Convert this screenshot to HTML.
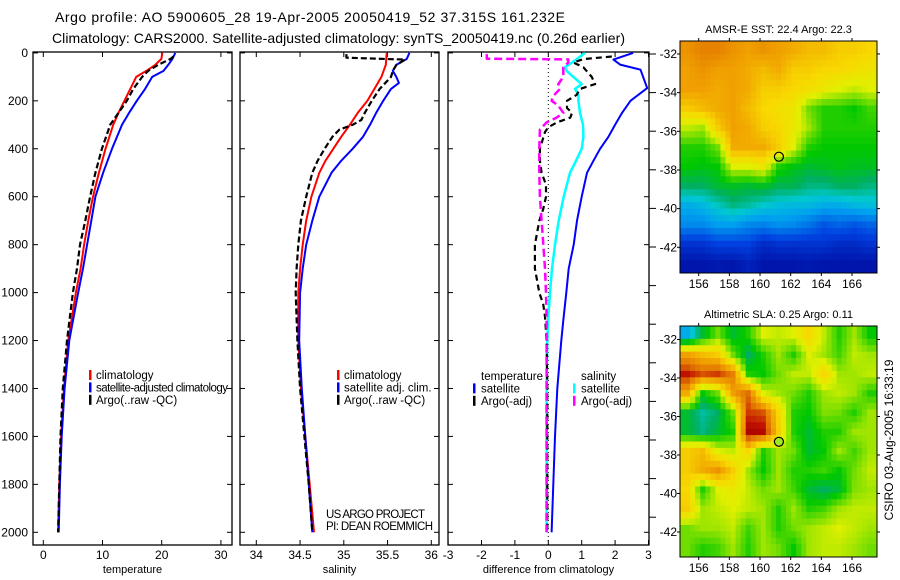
<!DOCTYPE html>
<html><head><meta charset="utf-8"><style>
html,body{margin:0;padding:0;background:#fff}
svg{display:block;font-family:"Liberation Sans",sans-serif}
</style></head><body>
<svg id="fig" width="900" height="580" viewBox="0 0 900 580">
<text x="55" y="22" font-size="14" textLength="510">Argo profile: AO 5900605_28 19-Apr-2005 20050419_52 37.315S 161.232E</text>
<text x="52" y="43" font-size="14" textLength="573">Climatology: CARS2000. Satellite-adjusted climatology: synTS_20050419.nc (0.26d earlier)</text>
<g id="layer"></g>
</svg>
<script>
// ---------- data ----------
const depthTicks=[0,200,400,600,800,1000,1200,1400,1600,1800,2000];
const climDepths=[0,25,50,75,100,150,200,250,300,400,500,600,700,800,900,1000,1200,1400,1600,1800,2000];
const tempClim=[20.1,19.95,18.9,17.4,15.7,14.7,13.7,12.7,11.8,10.5,9.4,8.4,7.6,6.9,6.3,5.5,4.2,3.5,3.0,2.7,2.5];
const tempSat=[22.3,21.8,21.1,20.3,18.4,17.2,15.8,14.5,13.3,11.6,10.1,8.8,8.1,7.4,6.7,5.9,4.4,3.6,3.1,2.8,2.6];
const argoTDepths=[15,25,50,75,100,150,200,250,300,400,500,600,700,800,900,1000,1200,1400,1600,1800,2000];
const tempArgo=[22.0,21.5,19.4,17.7,16.7,15.2,14.1,12.7,11.3,9.9,8.8,7.9,7.1,6.2,5.7,5.0,4.0,3.3,2.9,2.7,2.5];
const salClimDepths=[0,50,100,150,200,250,300,350,400,450,500,600,700,800,900,1000,1200,1400,1600,1800,2000];
const salClim=[35.49,35.48,35.43,35.35,35.27,35.16,35.07,34.97,34.88,34.79,34.72,34.63,34.57,34.53,34.50,34.48,34.48,34.51,34.56,34.61,34.66];
const salSatDepths=[0,25,50,75,100,125,150,200,250,300,350,400,450,500,600,700,800,900,1000,1200,1400,1600,1800,2000];
const salSat=[35.75,35.72,35.60,35.56,35.60,35.63,35.54,35.45,35.37,35.30,35.22,35.10,34.97,34.86,34.72,34.64,34.57,34.53,34.50,34.49,34.52,34.56,34.60,34.64];
const salArgoDepths=[5,20,28,50,75,100,150,200,250,280,300,320,350,400,450,500,600,700,800,900,1000,1200,1400,1600,1800,2000];
const salArgo=[35.03,35.03,35.70,35.60,35.56,35.54,35.41,35.32,35.24,35.20,35.10,34.95,34.87,34.78,34.70,34.64,34.57,34.51,34.48,34.46,34.45,34.47,34.50,34.55,34.60,34.64];
const dTSatDepths=[0,28,49,70,147,200,250,300,350,400,450,500,600,700,800,900,1000,1100,1200,1400,1600,1800,2000];
const dTSat=[2.54,1.95,2.15,2.76,2.96,2.46,2.21,2.0,1.8,1.55,1.35,1.16,1.0,0.86,0.76,0.61,0.54,0.46,0.39,0.27,0.2,0.15,0.1];
const dTArgoDepths=[15,26,40,60,100,130,150,175,200,230,250,270,290,310,330,400,450,500,550,600,650,700,800,900,1000,1050,1100,1200,1400,1600,1800,2000];
const dTArgo=[1.9,1.05,0.75,1.05,1.3,1.4,0.95,0.85,0.56,0.56,0.71,0.66,0.26,0.0,-0.1,-0.25,-0.25,-0.2,-0.07,-0.07,-0.15,-0.27,-0.4,-0.4,-0.27,-0.15,-0.1,-0.05,-0.03,-0.03,-0.03,-0.03];
const dSSatDepths=[0,25,40,60,75,100,130,150,175,200,250,300,350,400,450,500,600,700,800,900,1000,1100,1200,1400,1600,1800,2000];
const dSSat=[1.1,0.86,0.71,0.5,0.55,0.75,1.0,0.8,0.9,0.9,0.95,1.04,1.05,1.0,0.83,0.65,0.46,0.31,0.2,0.11,0.05,0.0,-0.03,-0.05,-0.05,-0.05,-0.05];
const dSArgoDepths=[5,24,27,40,60,100,130,150,180,200,220,250,270,290,320,400,500,600,700,800,900,1000,1100,1200,1400,1600,1800,2000];
const dSArgo=[-1.84,-1.84,0.6,0.6,0.45,0.45,0.3,0.35,0.15,0.1,0.3,0.45,0.25,-0.05,-0.25,-0.27,-0.27,-0.25,-0.2,-0.15,-0.1,-0.07,-0.05,-0.05,-0.05,-0.05,-0.05,-0.05];
const tempTicks=[0,10,20,30];
const salTicks=[34,34.5,35,35.5,36];
const diffTicks=[-3,-2,-1,0,1,2,3];
const lonTicks=[156,158,160,162,164,166];
const latTicks=[-32,-34,-36,-38,-40,-42];
const argoLon=161.232, argoLat=-37.315;
// map grids: 12 rows (north->south) x 13 cols (west->east), 0..1 colour index
const sstGrid=[
[0.82,0.85,0.85,0.82,0.8,0.82,0.8,0.78,0.75,0.75,0.72,0.72,0.7],
[0.8,0.82,0.8,0.8,0.78,0.75,0.78,0.72,0.72,0.7,0.7,0.68,0.66],
[0.8,0.8,0.78,0.8,0.78,0.72,0.72,0.7,0.68,0.65,0.62,0.6,0.62],
[0.72,0.75,0.78,0.8,0.75,0.7,0.68,0.66,0.55,0.5,0.5,0.48,0.52],
[0.6,0.58,0.72,0.8,0.78,0.72,0.7,0.65,0.58,0.5,0.5,0.5,0.5],
[0.5,0.5,0.55,0.78,0.78,0.78,0.72,0.62,0.5,0.48,0.48,0.48,0.48],
[0.48,0.47,0.48,0.62,0.62,0.66,0.5,0.47,0.45,0.46,0.47,0.46,0.46],
[0.42,0.42,0.45,0.46,0.45,0.46,0.43,0.43,0.4,0.4,0.42,0.42,0.4],
[0.3,0.32,0.36,0.4,0.38,0.35,0.33,0.32,0.32,0.3,0.3,0.32,0.33],
[0.25,0.25,0.28,0.28,0.25,0.24,0.26,0.25,0.22,0.18,0.2,0.18,0.2],
[0.12,0.12,0.15,0.15,0.15,0.1,0.12,0.12,0.12,0.12,0.1,0.1,0.12],
[0.05,0.05,0.06,0.05,0.08,0.05,0.05,0.05,0.06,0.05,0.05,0.05,0.05]];
const slaGrid=[
[0.3,0.45,0.55,0.45,0.5,0.62,0.6,0.62,0.7,0.6,0.5,0.58,0.48],
[0.8,0.75,0.72,0.55,0.42,0.5,0.58,0.5,0.62,0.58,0.52,0.6,0.58],
[0.95,0.9,0.92,0.85,0.5,0.48,0.55,0.6,0.6,0.7,0.58,0.58,0.6],
[0.78,0.48,0.55,0.8,0.88,0.62,0.58,0.55,0.5,0.58,0.6,0.58,0.5],
[0.45,0.38,0.42,0.55,0.92,0.9,0.7,0.5,0.48,0.56,0.55,0.5,0.58],
[0.45,0.4,0.45,0.5,0.98,0.97,0.72,0.5,0.45,0.5,0.5,0.58,0.58],
[0.72,0.75,0.62,0.6,0.7,0.5,0.58,0.55,0.45,0.48,0.58,0.52,0.58],
[0.72,0.78,0.82,0.72,0.58,0.48,0.58,0.5,0.5,0.52,0.48,0.55,0.6],
[0.7,0.5,0.62,0.65,0.6,0.55,0.58,0.52,0.45,0.42,0.45,0.56,0.58],
[0.72,0.58,0.6,0.62,0.6,0.58,0.5,0.58,0.5,0.52,0.58,0.6,0.6],
[0.55,0.58,0.58,0.6,0.52,0.58,0.5,0.55,0.58,0.6,0.62,0.6,0.58],
[0.55,0.5,0.52,0.58,0.5,0.58,0.55,0.48,0.58,0.6,0.6,0.58,0.55]];

// ---------- drawing ----------
const NS='http://www.w3.org/2000/svg';
const layer=document.getElementById('layer');
function el(tag,attrs,parent){const e=document.createElementNS(NS,tag);for(const k in attrs)e.setAttribute(k,attrs[k]);(parent||layer).appendChild(e);return e;}
function txt(x,y,s,size,anchor,parent){const t=el('text',{x:x,y:y,'font-size':size,'text-anchor':anchor||'start'},parent);t.textContent=s;return t;}
const PT=52,PB=545;
const yDepth=d=>52.9+d*0.2397;
const panels=[
 {x0:33,x1:232,sx:v=>43.3+v*5.92,ticks:tempTicks,title:'temperature',name:'temperature-panel',ylabels:true},
 {x0:240,x1:439,sx:v=>256.3+(v-34)*87.5,ticks:salTicks,title:'salinity',name:'salinity-panel'},
 {x0:448,x1:649,sx:v=>548.3+v*33.4,ticks:diffTicks,title:'difference from climatology',name:'difference-panel'}];
panels.forEach(p=>{
 const g=el('g',{});
 
 
 p.g=g;
 el('rect',{x:p.x0,y:PT,width:p.x1-p.x0,height:PB-PT,fill:'none',stroke:'#000','stroke-width':1.3},g);
 depthTicks.forEach(d=>{const y=yDepth(d);
  el('line',{x1:p.x0,x2:p.x0+5,y1:y,y2:y,stroke:'#000'},g);
  el('line',{x1:p.x1-5,x2:p.x1,y1:y,y2:y,stroke:'#000'},g);
  if(p.ylabels){const t=txt(p.x0-5,y+4,String(d),12,'end',g);}
 });
 p.ticks.forEach(v=>{const x=p.sx(v);
  el('line',{x1:x,x2:x,y1:PT,y2:PT+5,stroke:'#000'},g);
  el('line',{x1:x,x2:x,y1:PB-5,y2:PB,stroke:'#000'},g);
  const t=txt(x,559,String(v),12,'middle',g);
  
  
 });
 const at=txt((p.x0+p.x1)/2,573,p.title,11,'middle',g);
 
 
});
function line(p,depths,vals,color,dash,w,name){
 const pts=depths.map((d,i)=>p.sx(vals[i]).toFixed(1)+','+yDepth(d).toFixed(1)).join(' ');
 const l=el('polyline',{points:pts,fill:'none',stroke:color,'stroke-width':w||2,'stroke-dasharray':dash||'none','stroke-linejoin':'round'},p.g);
 
 
}
const [P1,P2,P3]=panels;
line(P1,climDepths,tempClim,'#f00',null,2,'temp-climatology-line');
line(P1,climDepths,tempSat,'#00f',null,2,'temp-satellite-line');
line(P1,argoTDepths,tempArgo,'#000','6,3',2.2,'temp-argo-line');
line(P2,salClimDepths,salClim,'#f00',null,2,'sal-climatology-line');
line(P2,salSatDepths,salSat,'#00f',null,2,'sal-satellite-line');
line(P2,salArgoDepths,salArgo,'#000','6,3',2.2,'sal-argo-line');
const z=el('line',{x1:P3.sx(0),x2:P3.sx(0),y1:PT,y2:PB,stroke:'#000','stroke-dasharray':'1,3'},P3.g);


line(P3,dTSatDepths,dTSat,'#00f',null,2,'diff-temp-satellite-line');
line(P3,dSSatDepths,dSSat,'#0ff',null,2.5,'diff-sal-satellite-line');
line(P3,dTArgoDepths,dTArgo,'#000','6,4',2.2,'diff-temp-argo-line');
line(P3,dSArgoDepths,dSArgo,'#f0f','8,4',2.5,'diff-sal-argo-line');
for(let k=0;k<13;k++){const y=54+38.6*k;el('line',{x1:649,x2:656,y1:y,y2:y,stroke:'#000'});}
// legends
function legend(items,mx,tx,y0,name){
 const g=el('g',{});
 
 
 items.forEach((it,i)=>{const y=y0+i*12.4;
  if(it[1])el('rect',{x:mx,y:y-9,width:2.5,height:10,fill:it[1]},g);
  const t=txt(tx,y,it[0],11.5,'start',g);
  if(it[2])t.setAttribute('textLength',it[2]);});
}
legend([['climatology','#f00'],['satellite-adjusted climatology','#00f',132],['Argo(..raw -QC)','#000']],89,96,379,'temperature-legend');
legend([['climatology','#f00'],['satellite adj. clim.','#00f'],['Argo(..raw -QC)','#000']],337,344,379,'salinity-legend');
legend([['temperature',null],['satellite','#00f'],['Argo(-adj)','#000']],473,481,380,'diff-temperature-legend');
legend([['salinity',null],['satellite','#0ff'],['Argo(-adj)','#f0f']],573,581,380,'diff-salinity-legend');
const cr=el('g',{});


const c1=txt(326,518,'US ARGO PROJECT',11.5,'start',cr);
c1.setAttribute('textLength','99');
const c2=txt(326,530,'PI: DEAN ROEMMICH',11.5,'start',cr);
c2.setAttribute('textLength','107');
// maps
const stops=[[0,[0,0,144]],[0.15,[0,64,224]],[0.28,[0,160,240]],[0.35,[0,200,208]],[0.42,[0,176,96]],[0.48,[0,200,0]],[0.56,[128,224,0]],[0.62,[224,240,0]],[0.7,[248,216,0]],[0.8,[240,160,0]],[0.88,[224,112,0]],[0.95,[192,16,0]],[1,[160,0,0]]];
function cmap(v){v=Math.max(0,Math.min(1,v));for(let i=1;i<stops.length;i++){if(v<=stops[i][0]){const a=stops[i-1],b=stops[i],t=(v-a[0])/(b[0]-a[0]);return 'rgb('+a[1].map((c,j)=>Math.round(c+(b[1][j]-c)*t)).join(',')+')';}}return 'rgb(160,0,0)';}
function sample(grid,r,c){
 const nr=grid.length,nc=grid[0].length;
 r=Math.max(0,Math.min(nr-1,r));c=Math.max(0,Math.min(nc-1,c));
 const r0=Math.floor(r),c0=Math.floor(c),r1=Math.min(nr-1,r0+1),c1=Math.min(nc-1,c0+1),fr=r-r0,fc=c-c0;
 return grid[r0][c0]*(1-fr)*(1-fc)+grid[r0][c1]*(1-fr)*fc+grid[r1][c0]*fr*(1-fc)+grid[r1][c1]*fr*fc;
}
function drawMap(grid,top,bot,lat0,lat1,title,name,markFill){
 const L=680,R=877,lon0=154.78,lon1=167.63,SUB=3;
 const sx=lon=>L+(lon-lon0)*(R-L)/(lon1-lon0);
 const sy=lat=>top+(lat0-lat)*(bot-top)/(lat0-lat1);
 const g=el('g',{});
 
 
 const nr=grid.length,nc=grid[0].length,dl=(lon1-lon0)/(nc*SUB),dt=(lat0-lat1)/(nr*SUB);
 for(let r=0;r<nr*SUB;r++)for(let c=0;c<nc*SUB;c++){
  const v=sample(grid,(r+0.5)/SUB-0.5,(c+0.5)/SUB-0.5);
  const x=sx(lon0+c*dl),y=sy(lat0-r*dt);
  const cell=el('rect',{x:x.toFixed(2),y:y.toFixed(2),width:(sx(lon0+(c+1)*dl)-x+0.4).toFixed(2),height:(sy(lat0-(r+1)*dt)-y+0.4).toFixed(2),fill:cmap(v)},g);
  
  
 }
 el('rect',{x:L,y:top,width:R-L,height:bot-top,fill:'none',stroke:'#000','stroke-width':1},g);
 lonTicks.forEach(l=>{const x=sx(l);el('line',{x1:x,x2:x,y1:top-3,y2:top,stroke:'#000'},g);el('line',{x1:x,x2:x,y1:bot,y2:bot+3,stroke:'#000'},g);txt(x,bot+15,String(l),12,'middle',g);});
 latTicks.forEach(l=>{const y=sy(l);el('line',{x1:L-3,x2:L,y1:y,y2:y,stroke:'#000'},g);el('line',{x1:R,x2:R+3,y1:y,y2:y,stroke:'#000'},g);txt(L-3,y+4,String(l),12,'end',g);});
 txt((L+R)/2,top-8,title,11,'middle',g);
 const m=el('circle',{cx:sx(argoLon),cy:sy(argoLat),r:4.5,fill:markFill,stroke:'#000','stroke-width':1.2},g);
 
 
}
drawMap(sstGrid,41,273,-31.33,-43.33,'AMSR-E SST: 22.4 Argo: 22.3','sst-map','none');
drawMap(slaGrid,326,557,-31.3,-43.3,'Altimetric SLA: 0.25 Argo: 0.11','sla-map','#a0e820');
const st=txt(0,0,'CSIRO 03-Aug-2005 16:33:19',12,'middle');
st.setAttribute('transform','translate(893,440) rotate(-90)');


</script>
</body></html>
